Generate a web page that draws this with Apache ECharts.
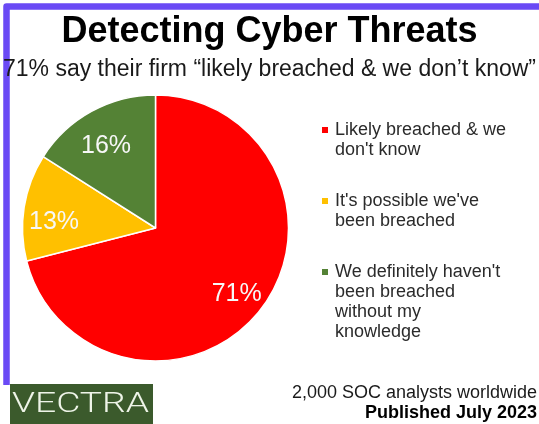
<!DOCTYPE html>
<html>
<head>
<meta charset="utf-8">
<script src="https://cdn.jsdelivr.net/npm/echarts@6/dist/echarts.min.js"></script>
<style>
  html, body { margin: 0; padding: 0; background: #fff; }
  #chart { width: 539px; height: 424px; }
</style>
</head>
<body>
<div id="chart"></div>
<script>
// answers and their share in percent
var categories = [
  "Likely breached & we don't know",
  "It's possible we've been breached",
  "We definitely haven't been breached without my knowledge"
];
var shares = [71, 13, 16];
var colors = ['#ff0000', '#ffc000', '#548235'];
// how the legend wraps each answer
var legendLines = [
  ['Likely breached & we', "don't know"],
  ["It's possible we've", 'been breached'],
  ["We definitely haven't", 'been breached', 'without my', 'knowledge']
];
// small vertical nudges of the % labels, like the original spreadsheet placed them
var labelNudge = [3, 10, 8];

var font = 'Liberation Sans, Arial, sans-serif';
var chart = echarts.init(document.getElementById('chart'), null, {renderer: 'canvas'});

var pieData = [];
for (var i = 0; i < categories.length; i++) {
  pieData.push({name: categories[i], value: shares[i], itemStyle: {color: colors[i]}});
}

// legend square drawn inside rich text so it sits on the first line
var rich = {
  t: {fontSize: 18, lineHeight: 20, color: '#2b2b2b', fontFamily: font},
  pad: {width: 13, lineHeight: 20}
};
for (var k = 0; k < colors.length; k++) {
  rich['sq' + k] = {width: 6, height: 6, backgroundColor: colors[k], verticalAlign: 'middle', lineHeight: 20};
}
rich.gap = {width: 7, lineHeight: 20};

function legendText(name) {
  var idx = categories.indexOf(name);
  var lines = legendLines[idx];
  var out = [];
  for (var j = 0; j < lines.length; j++) {
    if (j == 0) out.push('{sq' + idx + '|}{gap|}{t|' + lines[j] + '}');
    else out.push('{pad|}{t|' + lines[j] + '}');
  }
  return out.join('\n');
}

var option = {
  backgroundColor: '#ffffff',
  animation: false,
  title: [
    {
      text: 'Detecting Cyber Threats',
      left: 'center', top: 14, padding: 0,
      textStyle: {fontSize: 36, fontWeight: 'bold', color: '#000', fontFamily: font}
    },
    {
      text: '71% say their firm \u201clikely breached & we don\u2019t know\u201d',
      left: 'center', top: 58, padding: 0,
      textStyle: {fontSize: 23, fontWeight: 'normal', color: '#1a1a1a', fontFamily: font}
    },
    {
      text: '2,000 SOC analysts worldwide',
      right: 2, top: 384, padding: 0,
      textStyle: {fontSize: 18, fontWeight: 'normal', color: '#1a1a1a', fontFamily: font}
    },
    {
      text: 'Published July 2023',
      right: 2, top: 404, padding: 0,
      textStyle: {fontSize: 18, fontWeight: 'bold', color: '#000', fontFamily: font}
    }
  ],
  legend: {
    orient: 'vertical',
    left: 312,
    top: 115,
    icon: 'none',
    itemWidth: 0,
    itemHeight: 0,
    itemGap: 31,
    selectedMode: false,
    data: categories,
    formatter: legendText,
    textStyle: {rich: rich, fontSize: 18, lineHeight: 20, fontFamily: font}
  },
  series: [
    {
      type: 'pie',
      center: [155.5, 228],
      radius: 133,
      startAngle: 90,
      clockwise: true,
      silent: true,
      label: {show: false},
      labelLine: {show: false},
      itemStyle: {borderColor: '#ffffff', borderWidth: 1.5},
      data: pieData
    },
    {
      // transparent ring only to put the value labels at 3/4 radius
      type: 'pie',
      center: [155.5, 228],
      radius: [66.5, 133],
      startAngle: 90,
      clockwise: true,
      silent: true,
      itemStyle: {color: 'rgba(0,0,0,0)', borderWidth: 0},
      label: {
        show: true,
        position: 'inside',
        formatter: '{c}%',
        fontSize: 25,
        color: '#f7f7f7',
        fontFamily: font
      },
      labelLine: {show: false},
      labelLayout: function (p) {
        return {dy: labelNudge[p.dataIndex]};
      },
      data: categories.map(function (n, i) { return {name: n, value: shares[i]}; })
    }
  ],
  graphic: [
    {
      type: 'polyline',
      shape: {points: [[6.5, 385], [6.5, 6.5], [545, 6.5]]},
      style: {fill: null, stroke: '#6a4af5', lineWidth: 6.5, lineJoin: 'round'}
    },
    {
      type: 'rect',
      shape: {x: 10, y: 384, width: 143, height: 40},
      style: {fill: '#3b5a2c'}
    },
    {
      type: 'text',
      x: 12, y: 405,
      scaleX: 1.33,
      style: {
        text: 'VECTRA',
        fill: '#eef4e8',
        font: '300 28px Roboto, Liberation Sans, sans-serif',
        verticalAlign: 'middle'
      }
    }
  ]
};
chart.setOption(option);
</script>
</body>
</html>
